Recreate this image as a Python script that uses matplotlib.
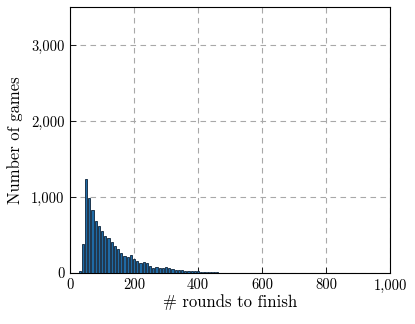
import numpy as np
import matplotlib
matplotlib.use("Agg")
from matplotlib import pyplot as plt
from matplotlib.ticker import FuncFormatter

# histogram of rounds needed to finish a game (bin centres, counts)
rounds = np.arange(10, 900, 10)
counts_head = [2, 3, 25, 385, 1235, 990, 825, 690, 620, 555, 495, 460, 415, 360,
               320, 270, 225, 215, 240, 180, 155, 135, 150, 128, 90, 72, 75, 72,
               65, 75, 62, 50, 45, 40, 35, 30, 28, 25, 22, 30, 18, 15, 16, 12,
               10, 9, 8, 8, 7, 6, 6, 5]
counts_tail = [5, 4, 4, 4, 3, 4, 3, 3, 3, 3, 2, 3, 2, 2, 2, 2, 2, 2, 2, 2, 2, 2,
               1, 2, 1, 1, 1, 1, 1, 1, 1, 1, 1, 1, 1, 1, 1]
counts = counts_head + counts_tail

plt.rcParams['font.family'] = 'serif'
plt.rcParams['font.serif'] = ['cmr10']
plt.rcParams['axes.formatter.use_mathtext'] = True

fig = plt.figure(figsize=(4.15, 3.24), dpi=100)
ax = fig.add_axes([0.169, 0.157, 0.771, 0.821])

ax.bar(rounds[:len(counts)], counts, width=7, color='#1f6aa5',
       edgecolor='#0b2238', linewidth=0.6, zorder=3)

ax.set_xlim(0, 1000)
ax.set_ylim(0, 3500)
ax.set_xticks([0, 200, 400, 600, 800, 1000])
ax.set_yticks([0, 1000, 2000, 3000])
ax.xaxis.set_major_formatter(FuncFormatter(lambda v, p: f'{v:,.0f}'))
ax.yaxis.set_major_formatter(FuncFormatter(lambda v, p: f'{v:,.0f}'))
ax.grid(True, color='#a8a8a8', linestyle=(0, (5, 4)), linewidth=0.8, zorder=0)
ax.tick_params(direction='in', length=4, labelsize=10.5, width=0.6, pad=4)
for s in ax.spines.values():
    s.set_linewidth(0.8)

ax.set_xlabel('# rounds to finish', fontsize=12, labelpad=1)
ax.set_ylabel('Number of games', fontsize=12, labelpad=6)

fig.savefig('out.png', dpi=100)
